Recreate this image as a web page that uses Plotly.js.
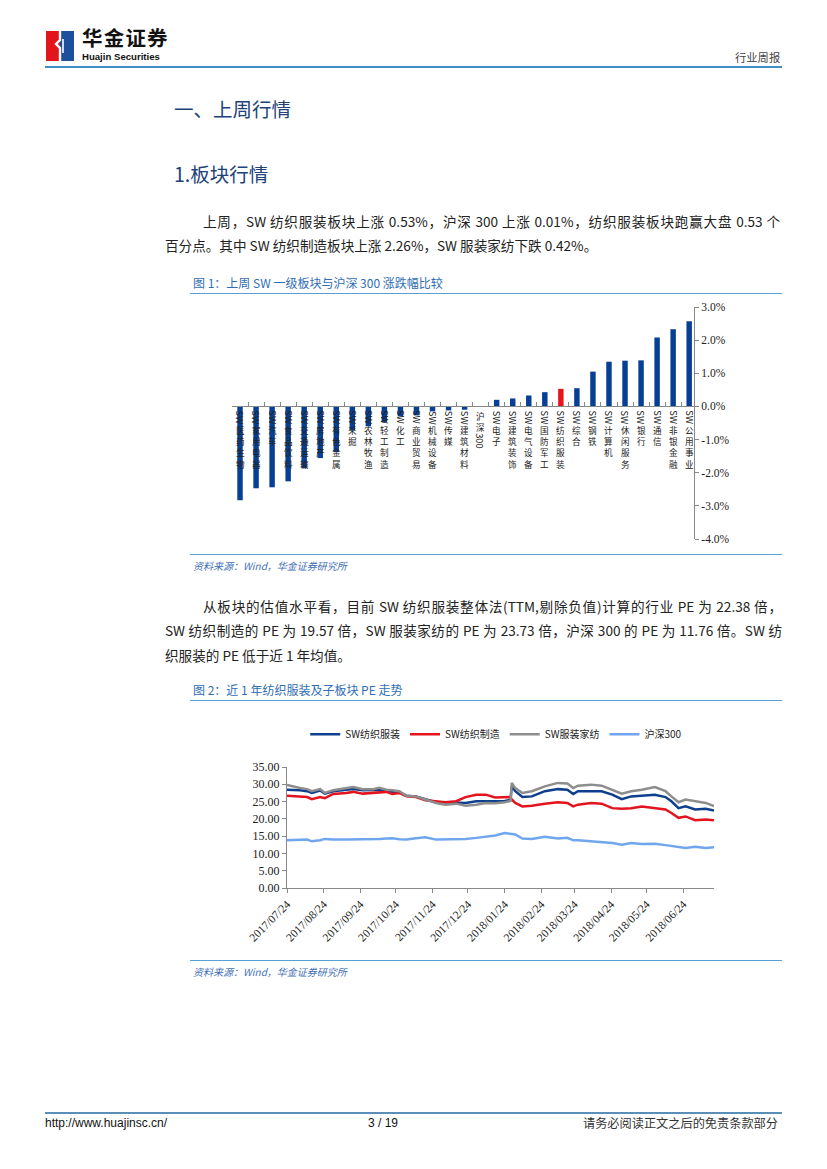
<!DOCTYPE html>
<html><head><meta charset="utf-8">
<script src="https://cdn.plot.ly/plotly-3.0.1.min.js"></script>
<style>
body{margin:0;padding:0;background:#fff;}
#page{position:relative;width:827px;height:1169px;overflow:hidden;background:#fff;font-family:"Noto Sans CJK SC","Noto Sans",sans-serif;color:#222;}
.abs{position:absolute;white-space:nowrap;}
.rule{position:absolute;height:0;}
.just{text-align:justify;text-align-last:justify;}
.para{font-size:13.6px;line-height:20px;color:#222;}
.cap{font-size:12px;color:#2f6eb5;line-height:16px;}
.src{font-size:10px;color:#3f6fb5;font-style:italic;line-height:14px;}
</style></head>
<body><div id="page">
<svg class="abs" style="left:46px;top:31px" width="28" height="30" viewBox="0 0 28 30">
<rect x="0" y="0" width="14" height="30" fill="#e3151c"/>
<rect x="14" y="0" width="14" height="30" fill="#1c4f9c"/>
<polyline points="14,0 14,9 10,13 14,17 14,30" fill="none" stroke="#fff" stroke-width="2.4"/>
<polyline points="17,8 17,22" fill="none" stroke="#fff" stroke-width="1.6"/>
</svg>
<div class="abs" style="left:82px;top:26px;font-size:20.5px;font-weight:bold;letter-spacing:1.2px;line-height:22px;height:22px;color:#111;">华金证券</div>
<div class="abs" style="left:82px;top:51.5px;font-family:'Liberation Sans',Arial,sans-serif;font-size:9.6px;font-weight:bold;line-height:10px;height:10px;color:#111;">Huajin Securities</div>
<div class="abs" style="left:735px;top:49px;font-size:11.3px;line-height:16px;color:#444;">行业周报</div>
<div class="rule" style="left:45px;top:66px;width:737px;border-top:2px solid #3d8fc6;"></div>

<div class="abs" style="left:174px;top:96px;font-size:19.5px;line-height:26px;color:#22427a;">一、上周行情</div>
<div class="abs" style="left:174px;top:161px;font-size:19.5px;line-height:26px;color:#22427a;">1.板块行情</div>

<div class="abs para just" style="left:203px;top:211px;width:577px;">上周，SW 纺织服装板块上涨 0.53%，沪深 300 上涨 0.01%，纺织服装板块跑赢大盘 0.53 个</div>
<div class="abs para" style="left:165px;top:235px;">百分点。其中 SW 纺织制造板块上涨 2.26%，SW 服装家纺下跌 0.42%。</div>

<div class="abs cap" style="left:193px;top:275px;">图 1：上周 SW 一级板块与沪深 300 涨跌幅比较</div>
<div class="rule" style="left:190px;top:293px;width:592px;border-top:1.5px solid #5a9fd4;"></div>
<div id="c1" class="abs" style="left:190px;top:296px;width:600px;height:256px;"></div>
<div class="rule" style="left:190px;top:554px;width:592px;border-top:1.5px solid #5a9fd4;"></div>
<div class="abs src" style="left:193px;top:559px;">资料来源：Wind，华金证券研究所</div>

<div class="abs para just" style="left:203px;top:596px;width:579px;">从板块的估值水平看，目前 SW 纺织服装整体法(TTM,剔除负值)计算的行业 PE 为 22.38 倍，</div>
<div class="abs para just" style="left:165px;top:620px;width:617px;">SW 纺织制造的 PE 为 19.57 倍，SW 服装家纺的 PE 为 23.73 倍，沪深 300 的 PE 为 11.76 倍。SW 纺</div>
<div class="abs para" style="left:165px;top:645px;">织服装的 PE 低于近 1 年均值。</div>

<div class="abs cap" style="left:193px;top:682px;">图 2：近 1 年纺织服装及子板块 PE 走势</div>
<div class="rule" style="left:190px;top:700px;width:592px;border-top:1.5px solid #5a9fd4;"></div>
<div id="c2" class="abs" style="left:190px;top:705px;width:600px;height:252px;"></div>
<div class="rule" style="left:190px;top:960px;width:592px;border-top:1.5px solid #5a9fd4;"></div>
<div class="abs src" style="left:193px;top:965px;">资料来源：Wind，华金证券研究所</div>

<div class="rule" style="left:45px;top:1112px;width:737px;border-top:2px solid #5a8fb8;"></div>
<div class="abs" style="left:45px;top:1115px;font-family:'Liberation Sans',Arial,sans-serif;font-size:12px;line-height:16px;color:#111;">http://www.huajinsc.cn/</div>
<div class="abs" style="left:368px;top:1115px;font-family:'Liberation Sans',Arial,sans-serif;font-size:12px;line-height:16px;color:#111;">3 / 19</div>
<div class="abs" style="left:583px;top:1115px;font-size:12.2px;line-height:16px;color:#333;">请务必阅读正文之后的免责条款部分</div>
</div>
<script>
// ---------- Chart 1 data ----------
const sectors = ['SW医药生物','SW家用电器','SW汽车','SW食品饮料','SW交通运输','SW房地产','SW有色金属','SW采掘','SW农林牧渔','SW轻工制造','SW化工','SW商业贸易','SW机械设备','SW传媒','SW建筑材料','沪深300','SW电子','SW建筑装饰','SW电气设备','SW国防军工','SW纺织服装','SW综合','SW钢铁','SW计算机','SW休闲服务','SW银行','SW通信','SW非银金融','SW公用事业'];
const weeklyChange = [-2.83,-2.47,-2.44,-2.26,-1.86,-1.56,-1.38,-0.72,-0.60,-0.48,-0.30,-0.27,-0.15,-0.12,-0.10,0.01,0.20,0.24,0.33,0.43,0.53,0.55,1.05,1.35,1.38,1.39,2.08,2.33,2.57];
const highlightSector = 'SW纺织服装';
const pctTickVals = [-4,-3,-2,-1,0,1,2,3];
const pctTickText = ['-4.0%','-3.0%','-2.0%','-1.0%','0.0%','1.0%','2.0%','3.0%'];

// ---------- Chart 2 data ----------
const peDates = ['2017-07-24','2017-07-31','2017-08-04','2017-08-10','2017-08-14','2017-08-21','2017-08-25','2017-09-01','2017-09-12','2017-09-18','2017-09-26','2017-10-05','2017-10-10','2017-10-16','2017-10-21','2017-10-27','2017-11-02','2017-11-10','2017-11-18','2017-11-27','2017-12-05','2017-12-14','2017-12-22','2017-12-31','2018-01-08','2018-01-16','2018-01-24','2018-01-29','2018-01-30','2018-02-02','2018-02-08','2018-02-16','2018-02-27','2018-03-10','2018-03-18','2018-03-23','2018-03-27','2018-04-07','2018-04-16','2018-04-25','2018-05-03','2018-05-11','2018-05-20','2018-05-31','2018-06-09','2018-06-14','2018-06-20','2018-06-26','2018-07-04','2018-07-13','2018-07-20'];
const peTextile = [28.4,28.4,28.3,28.0,27.5,28.2,27.3,28.0,28.4,28.6,28.3,28.3,28.4,28.0,27.8,27.7,26.7,26.5,25.7,24.8,24.8,24.8,24.6,25.1,25.1,25.0,25.2,25.5,29.4,28.0,26.3,26.5,28.0,28.6,28.4,27.2,28.0,28.0,28.0,27.0,25.7,26.5,26.7,27.0,26.3,25.1,23.1,23.6,22.7,22.9,22.38];
const peManufacture = [26.7,26.6,26.5,26.3,25.7,26.3,26.0,27.2,27.5,27.8,27.3,27.5,27.7,27.8,27.2,27.5,26.5,26.3,25.4,25.1,24.8,25.1,26.3,27.0,27.0,26.2,26.2,26.3,25.6,24.6,23.6,23.8,24.4,24.8,24.6,23.6,24.1,24.6,24.4,23.1,22.9,23.1,23.6,23.1,22.7,21.7,20.3,20.7,19.6,19.8,19.57];
const peApparel = [29.8,29.2,28.9,28.6,28.0,28.6,27.5,28.3,28.9,29.2,28.6,28.6,29.0,28.4,28.3,28.0,26.7,26.5,25.6,24.6,24.1,24.4,23.8,24.1,24.6,24.5,24.8,25.2,30.4,28.9,27.5,28.0,29.4,30.4,30.2,28.9,29.6,29.9,29.6,28.4,27.3,28.0,28.4,29.2,28.0,26.5,24.8,25.6,25.1,24.6,23.73];
const peHS300 = [13.8,13.8,13.9,14.0,13.5,13.8,14.2,14.0,14.0,14.0,14.0,14.1,14.2,14.3,14.4,14.1,14.0,14.4,14.7,14.0,14.0,14.0,14.2,14.5,14.8,15.2,15.9,15.7,15.6,15.5,14.3,14.2,14.8,14.3,14.5,13.8,13.8,13.5,13.2,13.0,12.5,13.0,12.7,12.8,12.4,12.2,11.9,11.6,11.9,11.6,11.76];
const seriesNames = ['SW纺织服装','SW纺织制造','SW服装家纺','沪深300'];
const dateTicks = ['2017-07-24','2017-08-24','2017-09-24','2017-10-24','2017-11-24','2017-12-24','2018-01-24','2018-02-24','2018-03-24','2018-04-24','2018-05-24','2018-06-24'];
const dateTickText = dateTicks.map(d => d.replace(/-/g,'/'));

const CJK = '"Noto Sans CJK SC", "Noto Sans", sans-serif';
const SERIF = '"Liberation Serif", "DejaVu Serif", serif';

// ---- chart 1 ----
const barColors = sectors.map(s => s === highlightSector ? '#e8141c' : '#063f94');
const ann1 = [];
const LBL = 8.6, LH = LBL * 1.3;
sectors.forEach(function(name){
  const runs = name.match(/[A-Za-z0-9]+|[^A-Za-z0-9]+/g);
  let off = 3;
  runs.forEach(function(run){
    const ascii = /^[A-Za-z0-9]+$/.test(run);
    if (ascii) {
      const h = run.length * 5.6 + 1;
      ann1.push({x: name, y: 0, xref: 'x', yref: 'y', text: run, showarrow: false, borderpad: 0,
        textangle: 90, xanchor: 'center', yanchor: 'top', yshift: -off,
        font: {family: CJK, size: 9.4, color: '#222'}});
      off += h + 1;
    } else {
      const chars = run.split('');
      ann1.push({x: name, y: 0, xref: 'x', yref: 'y', text: chars.join('<br>'), showarrow: false, borderpad: 0,
        xanchor: 'center', yanchor: 'top', yshift: -off, align: 'center',
        font: {family: CJK, size: LBL, color: '#222'}});
      off += chars.length * LH;
    }
  });
});
Plotly.newPlot('c1', [{
  type: 'bar', x: sectors, y: weeklyChange, marker: {color: barColors}, hoverinfo: 'skip'
}], {
  width: 600, height: 256, autosize: false,
  margin: {l: 41.7, r: 96, t: 11, b: 13, pad: 0},
  paper_bgcolor: 'rgba(0,0,0,0)', plot_bgcolor: 'rgba(0,0,0,0)',
  bargap: 0.66, showlegend: false,
  xaxis: {type: 'category', range: [-0.5, 28.3], anchor: 'free', position: 4/7,
    showticklabels: false, showline: true, linecolor: '#888', linewidth: 1,
    ticks: 'inside', ticklen: 4, tickcolor: '#888', tickson: 'boundaries',
    showgrid: false, zeroline: false, fixedrange: true},
  yaxis: {side: 'right', range: [-4, 3], tickvals: pctTickVals, ticktext: pctTickText,
    showline: true, linecolor: '#888', linewidth: 1, ticks: 'outside', ticklen: 4, tickcolor: '#888',
    showgrid: false, zeroline: false, tickfont: {family: SERIF, size: 11.5, color: '#222'}, fixedrange: true},
  annotations: ann1
}, {staticPlot: true});

// ---- chart 2 ----
const lineColors = ['#0d3f8e', '#e3141d', '#8d8d8d', '#6fa6ee'];
const peSeries = [peTextile, peManufacture, peApparel, peHS300];
const traces2 = peSeries.map((ys, i) => ({
  type: 'scatter', mode: 'lines', x: peDates, y: ys, name: seriesNames[i],
  line: {color: lineColors[i], width: 2.5}, hoverinfo: 'skip'
}));
Plotly.newPlot('c2', traces2, {
  width: 600, height: 252, autosize: false,
  margin: {l: 96.7, r: 76, t: 62.3, b: 68.7, pad: 0},
  paper_bgcolor: 'rgba(0,0,0,0)', plot_bgcolor: 'rgba(0,0,0,0)',
  showlegend: true,
  legend: {orientation: 'h', x: 0.49, xanchor: 'center', y: 1.27, yanchor: 'middle',
    font: {family: CJK, size: 10, color: '#222'}, itemwidth: 30, traceorder: 'normal'},
  xaxis: {type: 'date', range: ['2017-07-24', '2018-07-20'], tickvals: dateTicks, ticktext: dateTickText,
    tickangle: -45, tickfont: {family: SERIF, size: 11.5, color: '#222'},
    showline: true, linecolor: '#888', linewidth: 1, ticks: 'outside', ticklen: 4, tickcolor: '#888',
    showgrid: false, zeroline: false, fixedrange: true},
  yaxis: {range: [0, 35], dtick: 5, tickformat: '.2f', tickfont: {family: SERIF, size: 12, color: '#222'},
    showline: true, linecolor: '#888', linewidth: 1, ticks: 'outside', ticklen: 4, tickcolor: '#888',
    showgrid: false, zeroline: false, fixedrange: true}
}, {staticPlot: true});
</script>
</body></html>
